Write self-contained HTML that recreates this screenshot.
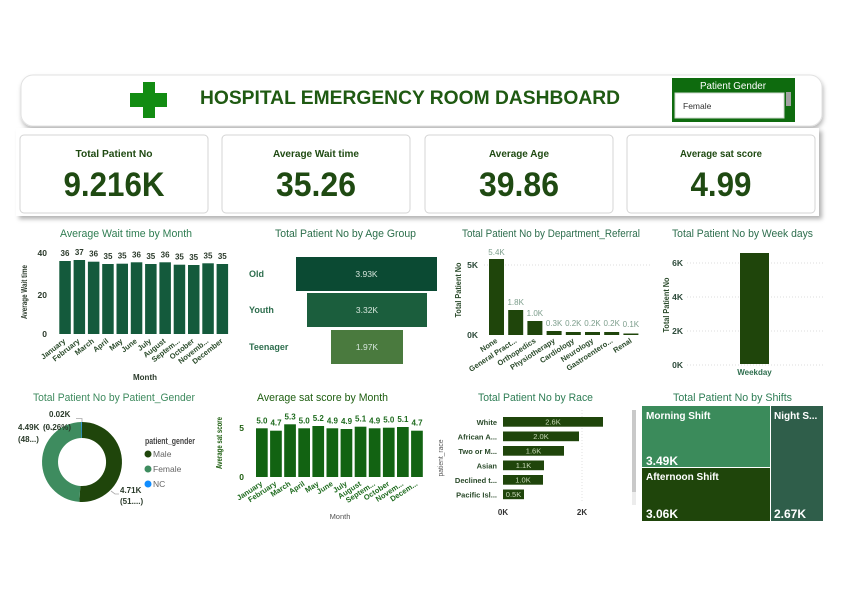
<!DOCTYPE html>
<html><head><meta charset="utf-8"><style>
html,body{margin:0;padding:0;background:#fff;}
svg{display:block;font-family:"Liberation Sans",sans-serif;}
</style></head><body>
<svg width="841" height="595" viewBox="0 0 841 595" xmlns="http://www.w3.org/2000/svg">
<defs>
<filter id="sh" x="-5%" y="-20%" width="110%" height="160%"><feDropShadow dx="1" dy="3" stdDeviation="2" flood-color="#000" flood-opacity="0.28"/></filter>
<filter id="sh2" x="-5%" y="-20%" width="110%" height="160%"><feDropShadow dx="3" dy="3" stdDeviation="2" flood-color="#000" flood-opacity="0.3"/></filter>
</defs>
<rect width="841" height="595" fill="#fff"/>

<!-- Header -->
<rect x="21" y="75" width="801" height="51" rx="12" fill="#fff" stroke="#e2e2e2" stroke-width="1" filter="url(#sh)"/>
<rect x="143" y="82" width="12" height="36" fill="#128c12"/>
<rect x="130" y="93" width="37" height="14" fill="#128c12"/>
<text x="200" y="104" font-size="19.5" font-weight="bold" fill="#1f5a12" textLength="420" lengthAdjust="spacingAndGlyphs">HOSPITAL EMERGENCY ROOM DASHBOARD</text>
<rect x="672" y="78" width="123" height="44" fill="#0e6b0e"/>
<text x="700" y="89" font-size="10" fill="#fff" textLength="66" lengthAdjust="spacingAndGlyphs">Patient Gender</text>
<rect x="675" y="93" width="109" height="25" fill="#fff" stroke="#cfd8cf" stroke-width="1"/>
<text x="683" y="109" font-size="8.5" fill="#333">Female</text>
<rect x="786" y="92" width="5" height="14" fill="#a3a3a3"/>

<!-- KPI container -->
<rect x="16" y="128" width="803" height="88" fill="#fff" filter="url(#sh2)"/>
<g stroke="#d4d4d4" stroke-width="1" fill="#fff">
<rect x="20" y="135" width="188" height="78" rx="4"/>
<rect x="222" y="135" width="188" height="78" rx="4"/>
<rect x="425" y="135" width="188" height="78" rx="4"/>
<rect x="627" y="135" width="188" height="78" rx="4"/>
</g>
<g font-weight="bold" fill="#1f4a12" text-anchor="middle">
<text x="114" y="157" font-size="10.5" textLength="77" lengthAdjust="spacingAndGlyphs">Total Patient No</text>
<text x="316" y="157" font-size="10.5" textLength="86" lengthAdjust="spacingAndGlyphs">Average Wait time</text>
<text x="519" y="157" font-size="10.5" textLength="60" lengthAdjust="spacingAndGlyphs">Average Age</text>
<text x="721" y="157" font-size="10.5" textLength="82" lengthAdjust="spacingAndGlyphs">Average sat score</text>
<text x="114" y="196" font-size="34" textLength="101" lengthAdjust="spacingAndGlyphs">9.216K</text>
<text x="316" y="196" font-size="34" textLength="80" lengthAdjust="spacingAndGlyphs">35.26</text>
<text x="519" y="196" font-size="34" textLength="80" lengthAdjust="spacingAndGlyphs">39.86</text>
<text x="721" y="196" font-size="34" textLength="61" lengthAdjust="spacingAndGlyphs">4.99</text>
</g>

<!-- Chart titles -->
<g font-size="11">
<text x="60" y="237" fill="#2f7d52" textLength="132" lengthAdjust="spacingAndGlyphs">Average Wait time by Month</text>
<text x="275" y="237" fill="#2b6e4a" textLength="141" lengthAdjust="spacingAndGlyphs">Total Patient No by Age Group</text>
<text x="462" y="237" fill="#2e6e4e" textLength="178" lengthAdjust="spacingAndGlyphs">Total Patient No by Department_Referral</text>
<text x="672" y="237" fill="#2e6e4e" textLength="141" lengthAdjust="spacingAndGlyphs">Total Patient No by Week days</text>
<text x="33" y="401" fill="#3e8a5e" textLength="162" lengthAdjust="spacingAndGlyphs">Total Patient No by Patient_Gender</text>
<text x="257" y="401" fill="#1e5e10" textLength="131" lengthAdjust="spacingAndGlyphs">Average sat score by Month</text>
<text x="478" y="401" fill="#2e7d55" textLength="115" lengthAdjust="spacingAndGlyphs">Total Patient No by Race</text>
<text x="673" y="401" fill="#2e7d55" textLength="119" lengthAdjust="spacingAndGlyphs">Total Patient No by Shifts</text>
</g>

<!-- Chart 1: Average wait time by month -->
<text transform="translate(27,292) rotate(-90)" text-anchor="middle" font-size="8" font-weight="bold" fill="#2b3a2b" textLength="54" lengthAdjust="spacingAndGlyphs">Average Wait time</text>
<g font-size="8.5" font-weight="bold" fill="#2b3a2b" text-anchor="end">
<text x="47" y="256">40</text><text x="47" y="298">20</text><text x="47" y="337">0</text>
</g>
<g fill="#145a3c">
<rect x="59.3" y="261" width="11.5" height="73"/>
<rect x="73.6" y="260" width="11.5" height="74"/>
<rect x="87.9" y="261.7" width="11.5" height="72.3"/>
<rect x="102.2" y="264" width="11.5" height="70"/>
<rect x="116.5" y="263.7" width="11.5" height="70.3"/>
<rect x="130.8" y="262.3" width="11.5" height="71.7"/>
<rect x="145.1" y="264" width="11.5" height="70"/>
<rect x="159.4" y="262.3" width="11.5" height="71.7"/>
<rect x="173.7" y="264.7" width="11.5" height="69.3"/>
<rect x="188.0" y="265" width="11.5" height="69"/>
<rect x="202.3" y="263.3" width="11.5" height="70.7"/>
<rect x="216.6" y="264" width="11.5" height="70"/>
</g>
<g font-size="8" font-weight="bold" fill="#2b3a2b" text-anchor="middle">
<text x="65" y="256">36</text><text x="79.3" y="255">37</text><text x="93.6" y="256.7">36</text>
<text x="108" y="259">35</text><text x="122.2" y="258.7">35</text><text x="136.5" y="257.3">36</text>
<text x="150.8" y="259">35</text><text x="165.1" y="257.3">36</text><text x="179.4" y="259.7">35</text>
<text x="193.7" y="260">35</text><text x="208" y="258.3">35</text><text x="222.3" y="259">35</text>
</g>
<g font-size="7.5" font-weight="bold" fill="#2a4a2a" text-anchor="end">
<text transform="translate(66,342) rotate(-38)">January</text>
<text transform="translate(80.3,342) rotate(-38)">February</text>
<text transform="translate(94.6,342) rotate(-38)">March</text>
<text transform="translate(109,342) rotate(-38)">April</text>
<text transform="translate(123.2,342) rotate(-38)">May</text>
<text transform="translate(137.5,342) rotate(-38)">June</text>
<text transform="translate(151.8,342) rotate(-38)">July</text>
<text transform="translate(166.1,342) rotate(-38)">August</text>
<text transform="translate(180.4,342) rotate(-38)">Septem...</text>
<text transform="translate(194.7,342) rotate(-38)">October</text>
<text transform="translate(209,342) rotate(-38)">Novemb...</text>
<text transform="translate(223.3,342) rotate(-38)">December</text>
</g>
<text x="145" y="380" font-size="8" font-weight="bold" fill="#2b3a2b" text-anchor="middle">Month</text>

<!-- Chart 2: Funnel -->
<rect x="296" y="257" width="141" height="34" fill="#0b4a33"/>
<rect x="307" y="293" width="120" height="34" fill="#1b5e3d"/>
<rect x="331" y="330" width="72" height="34" fill="#4a7a3e"/>
<g font-size="8.5" fill="#d6e6dc" text-anchor="middle">
<text x="366.5" y="277">3.93K</text><text x="367" y="313">3.32K</text><text x="367" y="350">1.97K</text>
</g>
<g font-size="9" font-weight="bold" fill="#2e6e4e">
<text x="249" y="277">Old</text><text x="249" y="313">Youth</text><text x="249" y="350">Teenager</text>
</g>

<!-- Chart 3: Department referral -->
<text transform="translate(461,290) rotate(-90)" text-anchor="middle" font-size="8" font-weight="bold" fill="#2a4a2a" textLength="55" lengthAdjust="spacingAndGlyphs">Total Patient No</text>
<line x1="484" y1="265" x2="652" y2="265" stroke="#dcdcdc" stroke-width="1" stroke-dasharray="1,2"/>
<g font-size="8.5" font-weight="bold" fill="#2d4a3a" text-anchor="end">
<text x="478" y="268">5K</text><text x="478" y="338">0K</text>
</g>
<g fill="#1f450b">
<rect x="489" y="259" width="15" height="76"/>
<rect x="508.2" y="310" width="15" height="25"/>
<rect x="527.4" y="321" width="15" height="14"/>
<rect x="546.6" y="331" width="15" height="4"/>
<rect x="565.8" y="332" width="15" height="3"/>
<rect x="585" y="332" width="15" height="3"/>
<rect x="604.2" y="332" width="15" height="3"/>
<rect x="623.4" y="333.5" width="15" height="1.5"/>
</g>
<g font-size="8" fill="#7d9e8c" text-anchor="middle">
<text x="496.5" y="255">5.4K</text><text x="515.7" y="305">1.8K</text><text x="534.9" y="316">1.0K</text>
<text x="554.1" y="326">0.3K</text><text x="573.3" y="326">0.2K</text><text x="592.5" y="326">0.2K</text>
<text x="611.7" y="326">0.2K</text><text x="630.9" y="327">0.1K</text>
</g>
<g font-size="7.5" font-weight="bold" fill="#2a4a2a" text-anchor="end">
<text transform="translate(498,342) rotate(-33)">None</text>
<text transform="translate(517.2,342) rotate(-33)">General Pract...</text>
<text transform="translate(536.4,342) rotate(-33)">Orthopedics</text>
<text transform="translate(555.6,342) rotate(-33)">Physiotherapy</text>
<text transform="translate(574.8,342) rotate(-33)">Cardiology</text>
<text transform="translate(594,342) rotate(-33)">Neurology</text>
<text transform="translate(613.2,342) rotate(-33)">Gastroentero...</text>
<text transform="translate(632.4,342) rotate(-33)">Renal</text>
</g>

<!-- Chart 4: Week days -->
<text transform="translate(669,305) rotate(-90)" text-anchor="middle" font-size="8" font-weight="bold" fill="#2a4a2a" textLength="55" lengthAdjust="spacingAndGlyphs">Total Patient No</text>
<g stroke="#dcdcdc" stroke-width="1" stroke-dasharray="1,2">
<line x1="687" y1="263" x2="823" y2="263"/><line x1="687" y1="297" x2="823" y2="297"/>
<line x1="687" y1="331" x2="823" y2="331"/><line x1="687" y1="365" x2="823" y2="365"/>
</g>
<g font-size="8.5" font-weight="bold" fill="#2d4a3a" text-anchor="end">
<text x="683" y="266">6K</text><text x="683" y="300">4K</text><text x="683" y="334">2K</text><text x="683" y="368">0K</text>
</g>
<rect x="740" y="253" width="29" height="111" fill="#1f450b"/>
<text x="754.5" y="375" font-size="8" font-weight="bold" fill="#2e6e4e" text-anchor="middle">Weekday</text>

<!-- Chart 5: Donut -->
<path d="M82 422 A40 40 0 1 1 79.28 501.91 L80.37 485.94 A24 24 0 1 0 82 438 Z" fill="#1f450b"/>
<path d="M79.28 501.91 A40 40 0 0 1 81.34 422.01 L81.61 438 A24 24 0 0 0 80.37 485.94 Z" fill="#3e8c5f"/>
<path d="M81.34 422.01 A40 40 0 0 1 82 422 L82 438 A24 24 0 0 0 81.61 438 Z" fill="#118dff"/>
<g stroke="#a8a8a8" stroke-width="0.8" fill="none">
<polyline points="82,422 82,418.5 76,418.5"/>
<polyline points="43,427 49,427 54,431"/>
<polyline points="111,491 115,494 119,494"/>
</g>
<g font-size="8" font-weight="bold" fill="#2a3a2a">
<text x="49" y="417">0.02K</text>
<text x="18" y="430">4.49K</text>
<text x="43" y="430">(0.26%)</text>
<text x="18" y="442">(48...)</text>
<text x="120" y="493">4.71K</text>
<text x="120" y="504">(51....)</text>
</g>
<text x="145" y="444" font-size="9" font-weight="bold" fill="#444" textLength="50" lengthAdjust="spacingAndGlyphs">patient_gender</text>
<circle cx="148" cy="454" r="3.5" fill="#1f450b"/>
<circle cx="148" cy="469" r="3.5" fill="#3e8c5f"/>
<circle cx="148" cy="484" r="3.5" fill="#118dff"/>
<g font-size="8.5" fill="#666">
<text x="153" y="457">Male</text><text x="153" y="472">Female</text><text x="153" y="487">NC</text>
</g>

<!-- Chart 6: Avg sat score -->
<text transform="translate(222,443) rotate(-90)" text-anchor="middle" font-size="8" font-weight="bold" fill="#1e5e10" textLength="52" lengthAdjust="spacingAndGlyphs">Average sat score</text>
<g font-size="8.5" font-weight="bold" fill="#1e5e10" text-anchor="end">
<text x="244" y="431">5</text><text x="244" y="480">0</text>
</g>
<g fill="#126312">
<rect x="256" y="428.3" width="11.7" height="48.7"/>
<rect x="270.1" y="430.7" width="11.7" height="46.3"/>
<rect x="284.2" y="424.3" width="11.7" height="52.7"/>
<rect x="298.3" y="428.3" width="11.7" height="48.7"/>
<rect x="312.4" y="426" width="11.7" height="51"/>
<rect x="326.5" y="428.3" width="11.7" height="48.7"/>
<rect x="340.6" y="429" width="11.7" height="48"/>
<rect x="354.7" y="426.7" width="11.7" height="50.3"/>
<rect x="368.8" y="428.3" width="11.7" height="48.7"/>
<rect x="382.9" y="427.7" width="11.7" height="49.3"/>
<rect x="397" y="427" width="11.7" height="50"/>
<rect x="411.1" y="430.7" width="11.7" height="46.3"/>
</g>
<g font-size="8" font-weight="bold" fill="#1e6b1e" text-anchor="middle">
<text x="261.9" y="423.3">5.0</text><text x="276" y="425.7">4.7</text><text x="290.1" y="419.3">5.3</text>
<text x="304.2" y="423.3">5.0</text><text x="318.3" y="421">5.2</text><text x="332.4" y="423.3">4.9</text>
<text x="346.5" y="424">4.9</text><text x="360.6" y="421.7">5.1</text><text x="374.7" y="423.3">4.9</text>
<text x="388.8" y="422.7">5.0</text><text x="402.9" y="422">5.1</text><text x="417" y="425.7">4.7</text>
</g>
<g font-size="7.5" font-weight="bold" fill="#1e6b1e" text-anchor="end">
<text transform="translate(263,485) rotate(-33)">January</text>
<text transform="translate(277.1,485) rotate(-33)">February</text>
<text transform="translate(291.2,485) rotate(-33)">March</text>
<text transform="translate(305.3,485) rotate(-33)">April</text>
<text transform="translate(319.4,485) rotate(-33)">May</text>
<text transform="translate(333.5,485) rotate(-33)">June</text>
<text transform="translate(347.6,485) rotate(-33)">July</text>
<text transform="translate(361.7,485) rotate(-33)">August</text>
<text transform="translate(375.8,485) rotate(-33)">Septem...</text>
<text transform="translate(389.9,485) rotate(-33)">October</text>
<text transform="translate(404,485) rotate(-33)">Novem...</text>
<text transform="translate(418.1,485) rotate(-33)">Decem...</text>
</g>
<text x="340" y="519" font-size="7.5" fill="#555" text-anchor="middle">Month</text>

<!-- Chart 7: Race -->
<text transform="translate(443,458) rotate(-90)" text-anchor="middle" font-size="7.5" fill="#555" textLength="37" lengthAdjust="spacingAndGlyphs">patient_race</text>
<line x1="582" y1="410" x2="582" y2="502" stroke="#e2e2e2" stroke-width="1" stroke-dasharray="1,2"/>
<g fill="#1f450b">
<rect x="503" y="417" width="100" height="9.7"/>
<rect x="503" y="431.5" width="76" height="9.7"/>
<rect x="503" y="446" width="61" height="9.7"/>
<rect x="503" y="460.5" width="41" height="9.7"/>
<rect x="503" y="475" width="40" height="9.7"/>
<rect x="503" y="489.5" width="21" height="9.7"/>
</g>
<g font-size="7.5" fill="#c8d8b8" text-anchor="middle">
<text x="553" y="424.7">2.6K</text><text x="541" y="439.2">2.0K</text><text x="533.5" y="453.7">1.6K</text>
<text x="523.5" y="468.2">1.1K</text><text x="523" y="482.7">1.0K</text><text x="513.5" y="497.2">0.5K</text>
</g>
<g font-size="7.5" font-weight="bold" fill="#2a4a2a" text-anchor="end">
<text x="497" y="425">White</text><text x="497" y="439.5">African A...</text><text x="497" y="454">Two or M...</text>
<text x="497" y="468.5">Asian</text><text x="497" y="483">Declined t...</text><text x="497" y="497.5">Pacific Isl...</text>
</g>
<g font-size="8" font-weight="bold" fill="#333" text-anchor="middle">
<text x="503" y="515">0K</text><text x="582" y="515">2K</text>
</g>

<!-- Chart 8: Treemap -->
<rect x="632" y="410" width="4" height="95" fill="#ececec"/>
<rect x="632" y="410" width="4" height="82" fill="#c9c9c9"/>
<rect x="642" y="406" width="128" height="61" fill="#3b8b5b"/>
<rect x="642" y="468" width="128" height="53" fill="#1f450b"/>
<rect x="771" y="406" width="52" height="115" fill="#2f5e4a"/>
<g font-weight="bold" fill="#fff">
<text x="646" y="419" font-size="10">Morning Shift</text>
<text x="646" y="465" font-size="12">3.49K</text>
<text x="646" y="480" font-size="10">Afternoon Shift</text>
<text x="646" y="518" font-size="12">3.06K</text>
<text x="774" y="419" font-size="10">Night S...</text>
<text x="774" y="518" font-size="12">2.67K</text>
</g>
</svg>
</body></html>
